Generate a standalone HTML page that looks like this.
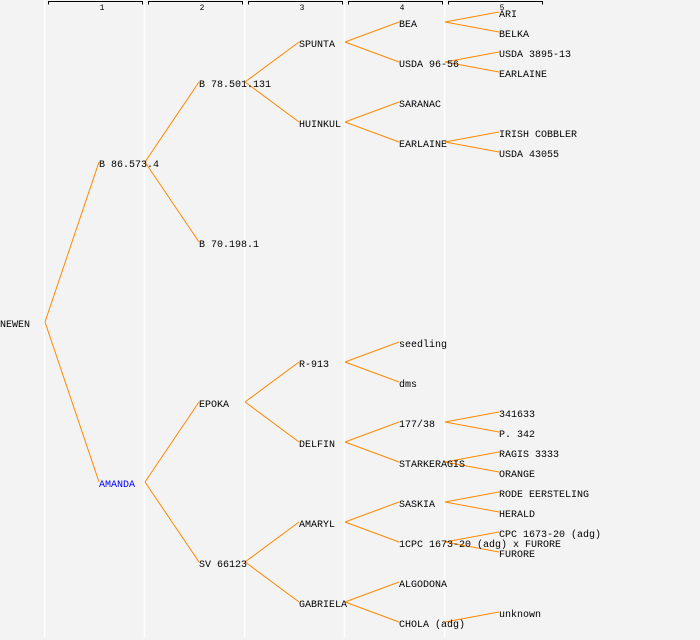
<!DOCTYPE html>
<html><head><meta charset="utf-8"><style>
html,body{margin:0;padding:0;background:#f3f3f3;}
svg{display:block;}
text{font-family:"Liberation Mono","DejaVu Sans Mono",monospace;font-size:10px;fill:#000;}
.h{font-size:8px;}
</style></head><body>
<svg width="700" height="640" xmlns="http://www.w3.org/2000/svg">
<rect width="700" height="640" fill="#f3f3f3"/>
<g stroke="#ffffff" stroke-width="1.5">
<line x1="44.5" y1="0" x2="44.5" y2="637"/>
<line x1="144.5" y1="0" x2="144.5" y2="637"/>
<line x1="244.5" y1="0" x2="244.5" y2="637"/>
<line x1="344.5" y1="0" x2="344.5" y2="637"/>
<line x1="444.5" y1="0" x2="444.5" y2="637"/>
</g>
<g stroke="#000" stroke-width="1" fill="none">
<polyline points="48.5,4.5 48.5,1.5 142.5,1.5 142.5,4.5"/>
<polyline points="148.5,4.5 148.5,1.5 242.5,1.5 242.5,4.5"/>
<polyline points="248.5,4.5 248.5,1.5 342.5,1.5 342.5,4.5"/>
<polyline points="348.5,4.5 348.5,1.5 442.5,1.5 442.5,4.5"/>
<polyline points="448.5,4.5 448.5,1.5 542.5,1.5 542.5,4.5"/>
</g>
<g class="h" text-anchor="middle">
<text class="h" x="102" y="10">1</text>
<text class="h" x="202" y="10">2</text>
<text class="h" x="302" y="10">3</text>
<text class="h" x="402" y="10">4</text>
<text class="h" x="502" y="10">5</text>
</g>
<g stroke="#ff8800" stroke-width="1" fill="none">
<line x1="45" y1="322" x2="99" y2="162"/><line x1="45" y1="322" x2="99" y2="482"/>
<line x1="145" y1="162" x2="199" y2="82"/><line x1="145" y1="162" x2="199" y2="242"/>
<line x1="145" y1="482" x2="199" y2="402"/><line x1="145" y1="482" x2="199" y2="562"/>
<line x1="245" y1="82" x2="299" y2="42"/><line x1="245" y1="82" x2="299" y2="122"/>
<line x1="245" y1="402" x2="299" y2="362"/><line x1="245" y1="402" x2="299" y2="442"/>
<line x1="245" y1="562" x2="299" y2="522"/><line x1="245" y1="562" x2="299" y2="602"/>
<line x1="345" y1="42" x2="399" y2="22"/><line x1="345" y1="42" x2="399" y2="62"/>
<line x1="345" y1="122" x2="399" y2="102"/><line x1="345" y1="122" x2="399" y2="142"/>
<line x1="345" y1="362" x2="399" y2="342"/><line x1="345" y1="362" x2="399" y2="382"/>
<line x1="345" y1="442" x2="399" y2="422"/><line x1="345" y1="442" x2="399" y2="462"/>
<line x1="345" y1="522" x2="399" y2="502"/><line x1="345" y1="522" x2="399" y2="542"/>
<line x1="345" y1="602" x2="399" y2="582"/><line x1="345" y1="602" x2="399" y2="622"/>
<line x1="445" y1="22" x2="499" y2="12"/><line x1="445" y1="22" x2="499" y2="32"/>
<line x1="445" y1="62" x2="499" y2="52"/><line x1="445" y1="62" x2="499" y2="72"/>
<line x1="445" y1="142" x2="499" y2="132"/><line x1="445" y1="142" x2="499" y2="152"/>
<line x1="445" y1="422" x2="499" y2="412"/><line x1="445" y1="422" x2="499" y2="432"/>
<line x1="445" y1="462" x2="499" y2="452"/><line x1="445" y1="462" x2="499" y2="472"/>
<line x1="445" y1="502" x2="499" y2="492"/><line x1="445" y1="502" x2="499" y2="512"/>
<line x1="445" y1="542" x2="499" y2="532"/><line x1="445" y1="542" x2="499" y2="552"/>
<line x1="445" y1="622" x2="499" y2="612"/>
</g>
<g transform="translate(0,1)">
<text x="0" y="326">NEWEN</text>
<text x="99" y="166">B 86.573.4</text>
<text x="99" y="486" style="fill:#0000ff">AMANDA</text>
<text x="199" y="86">B 78.501.131</text>
<text x="199" y="246">B 70.198.1</text>
<text x="199" y="406">EPOKA</text>
<text x="199" y="566">SV 66123</text>
<text x="299" y="46">SPUNTA</text>
<text x="299" y="126">HUINKUL</text>
<text x="299" y="366">R-913</text>
<text x="299" y="446">DELFIN</text>
<text x="299" y="526">AMARYL</text>
<text x="299" y="606">GABRIELA</text>
<text x="399" y="26">BEA</text>
<text x="399" y="66">USDA 96-56</text>
<text x="399" y="106">SARANAC</text>
<text x="399" y="146">EARLAINE</text>
<text x="399" y="346">seedling</text>
<text x="399" y="386">dms</text>
<text x="399" y="426">177/38</text>
<text x="399" y="466">STARKERAGIS</text>
<text x="399" y="506">SASKIA</text>
<text x="399" y="546">1CPC 1673-20 (adg) x FURORE</text>
<text x="399" y="586">ALGODONA</text>
<text x="399" y="626">CHOLA (adg)</text>
<text x="499" y="16">ARI</text>
<text x="499" y="36">BELKA</text>
<text x="499" y="56">USDA 3895-13</text>
<text x="499" y="76">EARLAINE</text>
<text x="499" y="136">IRISH COBBLER</text>
<text x="499" y="156">USDA 43055</text>
<text x="499" y="416">341633</text>
<text x="499" y="436">P. 342</text>
<text x="499" y="456">RAGIS 3333</text>
<text x="499" y="476">ORANGE</text>
<text x="499" y="496">RODE EERSTELING</text>
<text x="499" y="516">HERALD</text>
<text x="499" y="536">CPC 1673-20 (adg)</text>
<text x="499" y="556">FURORE</text>
<text x="499" y="616">unknown</text>
</g>
</svg>
</body></html>
